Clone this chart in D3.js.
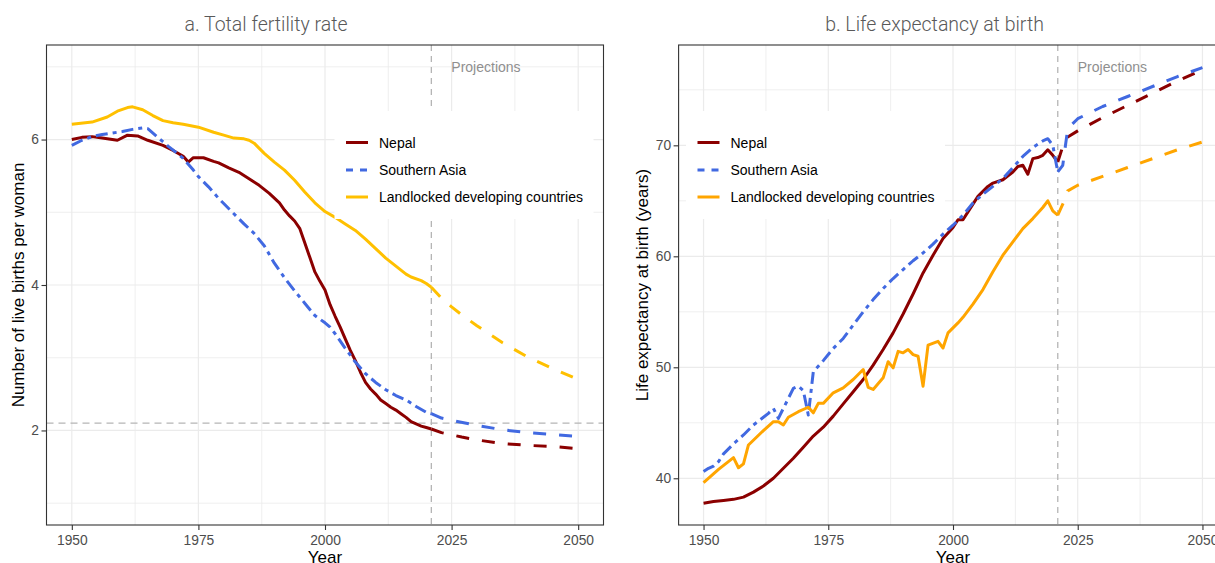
<!DOCTYPE html>
<html><head><meta charset="utf-8">
<script src="https://cdn.jsdelivr.net/npm/d3@7"></script>
<style>
body{margin:0;background:#fff;overflow:hidden}
svg{display:block;font-family:"Liberation Sans",Arial,Helvetica,sans-serif}
</style>
</head><body><svg id="c" width="1215" height="563"></svg>
<script>
// ---------------- DATA ----------------
const seriesNames = ["Nepal", "Southern Asia", "Landlocked developing countries"];
const xTicks = [1950, 1975, 2000, 2025, 2050];
const xMinor = [1962.5, 1987.5, 2012.5, 2037.5];
const tfrTicks = [2, 4, 6];
const tfrMinor = [1, 3, 5, 7];
const leTicks = [40, 50, 60, 70];
const leMinor = [45, 55, 65, 75];
const projectionYear = 2021;
const replacementTFR = 2.1;
const panelTitles = ["a. Total fertility rate", "b. Life expectancy at birth"];
const yTitles = ["Number of live births per woman", "Life expectancy at birth (years)"];

// Total fertility rate — estimates (1950–2021) and projections (2021–2050)
const tfrNepalHist = [[1950,6.00],[1952,6.03],[1954,6.04],[1956,6.02],[1958,6.00],[1959,5.99],[1961,6.06],[1963,6.05],[1965,5.99],[1968,5.92],[1970,5.85],[1972,5.77],[1973,5.69],[1974,5.75],[1976,5.75],[1978,5.70],[1979,5.68],[1981,5.61],[1983,5.55],[1985,5.46],[1987,5.37],[1989,5.26],[1991,5.13],[1992,5.03],[1993,4.95],[1994,4.88],[1995,4.78],[1996,4.58],[1997,4.38],[1998,4.18],[1999,4.05],[2000,3.93],[2001,3.73],[2002,3.57],[2003,3.42],[2004,3.26],[2005,3.10],[2006,2.96],[2007,2.80],[2008,2.66],[2009,2.57],[2010,2.50],[2011,2.42],[2012,2.37],[2013,2.32],[2014,2.28],[2015,2.23],[2016,2.18],[2017,2.12],[2018,2.09],[2019,2.06],[2020,2.04],[2021,2.02]];
const tfrNepalProj = [[2021,2.02],[2023,1.97],[2025,1.94],[2027,1.91],[2030,1.87],[2035,1.82],[2040,1.795],[2045,1.78],[2050,1.75]];
const tfrSAsiaHist = [[1950,5.92],[1952,5.99],[1954,6.04],[1956,6.07],[1958,6.09],[1960,6.11],[1962,6.14],[1964,6.16],[1965,6.15],[1967,6.03],[1969,5.91],[1971,5.80],[1972,5.74],[1974,5.58],[1975,5.49],[1977,5.35],[1979,5.19],[1980,5.12],[1982,4.98],[1984,4.84],[1986,4.71],[1988,4.54],[1990,4.30],[1992,4.10],[1994,3.92],[1996,3.75],[1998,3.58],[2000,3.48],[2001,3.42],[2002,3.33],[2004,3.13],[2006,2.94],[2008,2.78],[2010,2.66],[2012,2.56],[2014,2.48],[2016,2.42],[2018,2.33],[2020,2.25],[2021,2.23]];
const tfrSAsiaProj = [[2021,2.23],[2023,2.17],[2025,2.14],[2030,2.07],[2035,2.01],[2040,1.97],[2045,1.945],[2050,1.915]];
const tfrLLDCHist = [[1950,6.21],[1954,6.24],[1957,6.31],[1959,6.39],[1961,6.44],[1962,6.45],[1964,6.41],[1966,6.33],[1968,6.26],[1970,6.23],[1972,6.21],[1975,6.17],[1978,6.10],[1980,6.06],[1982,6.02],[1984,6.01],[1985,5.99],[1986,5.95],[1988,5.81],[1990,5.69],[1992,5.58],[1994,5.44],[1996,5.28],[1998,5.13],[2000,5.01],[2002,4.93],[2004,4.84],[2006,4.75],[2008,4.63],[2010,4.50],[2012,4.37],[2014,4.26],[2016,4.15],[2017,4.11],[2019,4.06],[2020,4.02],[2021,3.97]];
const tfrLLDCProj = [[2021,3.97],[2023,3.82],[2025,3.70],[2027,3.59],[2030,3.44],[2035,3.21],[2040,3.01],[2045,2.85],[2050,2.70]];

// Life expectancy at birth — estimates and projections
const leNepalHist = [[1950,37.75],[1952,37.9],[1954,38.0],[1956,38.1],[1958,38.3],[1960,38.75],[1962,39.3],[1964,40.0],[1966,40.9],[1968,41.8],[1970,42.8],[1972,43.8],[1974,44.6],[1976,45.6],[1978,46.7],[1980,47.8],[1982,48.9],[1984,50.2],[1986,51.6],[1988,53.1],[1990,54.8],[1992,56.6],[1994,58.5],[1996,60.1],[1998,61.6],[2000,62.6],[2001,63.3],[2002,63.3],[2003,64.0],[2005,65.4],[2007,66.3],[2008,66.6],[2010,66.9],[2012,67.6],[2013,68.1],[2014,68.2],[2015,67.4],[2016,68.8],[2017,68.9],[2018,69.1],[2019,69.6],[2020,69.1],[2021,68.5]];
const leNepalProj = [[2021,68.5],[2022,69.9],[2023,70.75],[2025,71.3],[2030,72.5],[2035,73.6],[2040,74.7],[2045,75.8],[2050,76.8]];
const leSAsiaHist = [[1950,40.6],[1951,40.9],[1952,41.1],[1953,41.5],[1954,42.2],[1956,43.1],[1958,43.9],[1960,44.8],[1962,45.5],[1963,45.85],[1964,46.3],[1965,45.4],[1966,46.3],[1967,47.2],[1968,48.1],[1969,48.3],[1970,47.9],[1971,45.7],[1972,49.6],[1974,50.6],[1976,51.7],[1978,52.6],[1980,53.8],[1982,55.0],[1984,56.1],[1986,57.1],[1988,58.0],[1990,58.8],[1992,59.6],[1994,60.3],[1996,61.1],[1998,62.0],[2000,62.8],[2002,63.7],[2004,64.8],[2006,65.6],[2008,66.3],[2010,67.0],[2012,68.0],[2014,69.0],[2016,69.8],[2018,70.4],[2019,70.6],[2020,70.0],[2021,67.6]];
const leSAsiaProj = [[2021,67.6],[2022,68.2],[2023,71.5],[2025,72.4],[2030,73.5],[2035,74.4],[2040,75.3],[2045,76.2],[2050,77.0]];
const leLLDCHist = [[1950,39.6],[1953,40.8],[1956,41.86],[1957,40.95],[1958,41.3],[1959,43.0],[1962,44.3],[1964,45.1],[1965,45.1],[1966,44.8],[1967,45.5],[1969,46.0],[1971,46.4],[1972,45.9],[1973,46.75],[1974,46.75],[1976,47.7],[1978,48.15],[1980,48.9],[1982,49.8],[1983,48.2],[1984,48.0],[1986,49.05],[1987,50.5],[1988,49.95],[1989,51.44],[1990,51.3],[1991,51.6],[1992,51.14],[1993,51.0],[1994,48.3],[1995,52.0],[1997,52.34],[1998,51.74],[1999,53.1],[2001,54.0],[2002,54.5],[2004,55.7],[2006,57.0],[2008,58.6],[2010,60.1],[2012,61.3],[2014,62.5],[2016,63.4],[2018,64.4],[2019,65.0],[2020,64.1],[2021,63.7]];
const leLLDCProj = [[2021,63.7],[2022,64.7],[2023,65.9],[2025,66.4],[2030,67.2],[2035,68.0],[2040,68.8],[2045,69.6],[2050,70.3]];

// ---------------- DRAWING ----------------
const svg = d3.select("#c");
const colNepal = "#8B0000", colSA = "#4169E1";
const grid = "#EBEBEB";

function drawPanel(cfg) {
  const g = svg.append("g");
  const x = d3.scaleLinear().domain([1945, 2055]).range([cfg.x0, cfg.x1]);
  const y = d3.scaleLinear().domain(cfg.yDomain).range([cfg.y1, cfg.y0]);
  const clipId = "clip" + cfg.id;
  svg.append("clipPath").attr("id", clipId).append("rect")
    .attr("x", cfg.x0).attr("y", cfg.y0).attr("width", cfg.x1 - cfg.x0).attr("height", cfg.y1 - cfg.y0);
  const inner = g.append("g").attr("clip-path", `url(#${clipId})`);

  // gridlines
  inner.selectAll(".ymin").data(cfg.yMinor).join("line")
    .attr("x1", cfg.x0).attr("x2", cfg.x1).attr("y1", d => y(d)).attr("y2", d => y(d))
    .attr("stroke", grid).attr("stroke-width", 0.8);
  inner.selectAll(".xmin").data(xMinor).join("line")
    .attr("y1", cfg.y0).attr("y2", cfg.y1).attr("x1", d => x(d)).attr("x2", d => x(d))
    .attr("stroke", grid).attr("stroke-width", 0.8);
  inner.selectAll(".ymaj").data(cfg.yTicks).join("line")
    .attr("x1", cfg.x0).attr("x2", cfg.x1).attr("y1", d => y(d)).attr("y2", d => y(d))
    .attr("stroke", grid).attr("stroke-width", 1.2);
  inner.selectAll(".xmaj").data(xTicks).join("line")
    .attr("y1", cfg.y0).attr("y2", cfg.y1).attr("x1", d => x(d)).attr("x2", d => x(d))
    .attr("stroke", grid).attr("stroke-width", 1.2);

  // reference lines
  inner.append("line").attr("x1", x(projectionYear)).attr("x2", x(projectionYear))
    .attr("y1", cfg.y0).attr("y2", cfg.y1)
    .attr("stroke", "#B5B5B5").attr("stroke-width", 1.3).attr("stroke-dasharray", "6,5");
  if (cfg.hline != null) {
    inner.append("line").attr("x1", cfg.x0).attr("x2", cfg.x1)
      .attr("y1", y(cfg.hline)).attr("y2", y(cfg.hline))
      .attr("stroke", "#B5B5B5").attr("stroke-width", 1.3).attr("stroke-dasharray", "7,5");
  }

  const line = d3.line().x(d => x(d[0])).y(d => y(d[1]));
  cfg.series.forEach(s => {
    inner.append("path").attr("d", line(s.hist)).attr("fill", "none")
      .attr("stroke", s.color).attr("stroke-width", 3)
      .attr("stroke-linejoin", "round")
      .attr("stroke-dasharray", s.histDash || null);
    inner.append("path").attr("d", line(s.proj)).attr("fill", "none")
      .attr("stroke", s.color).attr("stroke-width", 3)
      .attr("stroke-linejoin", "round")
      .attr("stroke-dasharray", "13,13");
  });

  // Projections label
  g.append("text").attr("x", x(projectionYear) + 20).attr("y", 72)
    .attr("font-size", "14px").attr("fill", "#8F8F8F").text("Projections");

  // legend
  const lg = g.append("g");
  lg.append("rect").attr("x", cfg.legX).attr("y", 111).attr("width", 259).attr("height", 108).attr("fill", "#fff");
  const rows = [142.5, 170, 197];
  cfg.series.forEach((s, i) => {
    lg.append("line").attr("x1", cfg.legX + 11.5).attr("x2", cfg.legX + 33.5)
      .attr("y1", rows[i]).attr("y2", rows[i])
      .attr("stroke", s.color).attr("stroke-width", 3)
      .attr("stroke-dasharray", s.histDash ? "7,7" : null);
    lg.append("text").attr("x", cfg.legX + 44.5).attr("y", rows[i]).attr("dy", "0.36em")
      .attr("font-size", "14px").attr("fill", "#000").text(s.name);
  });

  // border
  g.append("rect").attr("x", cfg.x0).attr("y", cfg.y0).attr("width", cfg.x1 - cfg.x0).attr("height", cfg.y1 - cfg.y0)
    .attr("fill", "none").attr("stroke", "#333333").attr("stroke-width", 1.1);

  // axes
  const ax = g.append("g").attr("transform", `translate(0,${cfg.y1})`)
    .call(d3.axisBottom(x).tickValues(xTicks).tickFormat(d3.format("d")).tickSize(5).tickPadding(5));
  const ay = g.append("g").attr("transform", `translate(${cfg.x0},0)`)
    .call(d3.axisLeft(y).tickValues(cfg.yTicks).tickFormat(d3.format("d")).tickSize(5).tickPadding(2.5));
  [ax, ay].forEach(a => {
    a.select(".domain").remove();
    a.selectAll(".tick line").attr("stroke", "#333333").attr("stroke-width", 1.1);
    a.selectAll(".tick text").attr("fill", "#4D4D4D").attr("font-size", "13.8px")
      .attr("font-family", '"Liberation Sans",Arial,sans-serif');
  });

  // axis titles
  g.append("text").attr("x", (cfg.x0 + cfg.x1) / 2).attr("y", 563).attr("text-anchor", "middle")
    .attr("font-size", "17px").attr("fill", "#000").text("Year");
  g.append("text").attr("transform", `translate(${cfg.yTitleX},${(cfg.y0 + cfg.y1) / 2}) rotate(-90)`)
    .attr("text-anchor", "middle").attr("dy", "0.35em")
    .attr("font-size", "17px").attr("fill", "#000").text(cfg.yTitle);

  // panel title
  g.append("text").attr("x", cfg.titleX).attr("y", 31).attr("text-anchor", "middle")
    .attr("font-family", "Roboto, 'Liberation Sans', sans-serif").attr("font-weight", 300)
    .attr("font-size", "19.5px").attr("fill", "#595959").text(cfg.title);
}

drawPanel({
  id: "a", x0: 46.5, x1: 603.5, y0: 45, y1: 525, yDomain: [0.7, 7.3],
  yTicks: tfrTicks, yMinor: tfrMinor, hline: replacementTFR,
  legX: 334.5, yTitleX: 18, titleX: 266, title: panelTitles[0], yTitle: yTitles[0],
  series: [
    {name: seriesNames[0], color: colNepal, hist: tfrNepalHist, proj: tfrNepalProj},
    {name: seriesNames[1], color: colSA, hist: tfrSAsiaHist, proj: tfrSAsiaProj, histDash: "12,5,4,5"},
    {name: seriesNames[2], color: "#FFC000", hist: tfrLLDCHist, proj: tfrLLDCProj}
  ]
});
drawPanel({
  id: "b", x0: 678.6, x1: 1227.4, y0: 45, y1: 525, yDomain: [35.79, 79.04],
  yTicks: leTicks, yMinor: leMinor, hline: null,
  legX: 686, yTitleX: 642, titleX: 934.5, title: panelTitles[1], yTitle: yTitles[1],
  series: [
    {name: seriesNames[0], color: colNepal, hist: leNepalHist, proj: leNepalProj},
    {name: seriesNames[1], color: colSA, hist: leSAsiaHist, proj: leSAsiaProj, histDash: "12,5,4,5"},
    {name: seriesNames[2], color: "#FFA500", hist: leLLDCHist, proj: leLLDCProj}
  ]
});
</script>
</body></html>
